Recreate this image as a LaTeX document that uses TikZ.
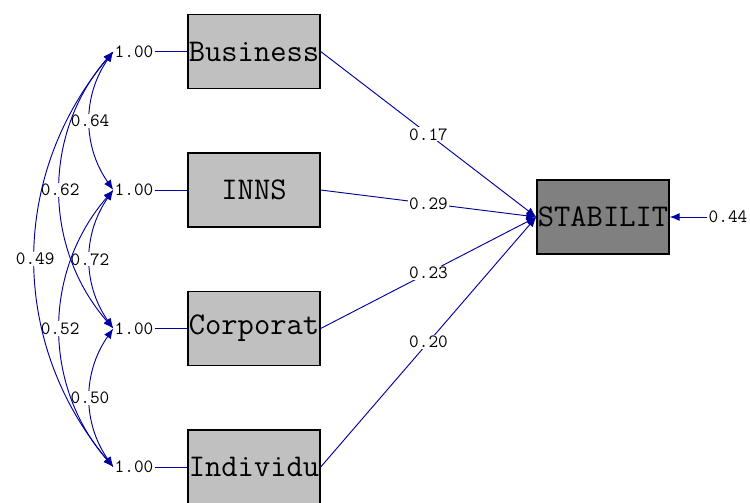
\documentclass[tikz,border=0pt]{standalone}
\usepackage{xcolor}
\usetikzlibrary{arrows.meta,positioning}

\definecolor{pathblue}{RGB}{0,0,160}
\definecolor{boxgray}{RGB}{192,192,192}
\definecolor{darkgray}{RGB}{128,128,128}

\tikzset{
    obsbox/.style={draw=black, line width=1.2pt, fill=boxgray, minimum width=132*0.03cm,
        minimum height=74*0.03cm, inner sep=0pt, font=\ttfamily\fontsize{27}{27}\selectfont},
    coef/.style={text=black, font=\ttfamily\fontsize{16}{16}\selectfont, inner sep=1pt, fill=white},
    path/.style={pathblue, line width=0.8pt},
}

\begin{document}
\begin{tikzpicture}[x=0.03cm, y=-0.03cm, >={Latex[length=3mm,width=2.4mm]}]
        \useasboundingbox (0,0) rectangle (750,503);

        % Observed variables
        \foreach \name/\txt/\y in {biz/Business/51.5, inns/INNS/190, corp/Corporat/328.5, indiv/Individu/467} {
            \node[obsbox] (\name) at (254,\y) {\txt};
            \node[coef] (v\name) at (134,\y) {1.00};
            \draw[path] (v\name.east) -- (\name.west);
        }

        % Dependent variable
        \node[obsbox, fill=darkgray] (stab) at (603,217) {STABILIT};
        \node[coef] (err) at (728,217) {0.44};
        \draw[path, ->] (err.west) -- (stab.east);

        % Paths to STABILIT
        \draw[path, ->] (biz.east) -- node[coef, pos=0.5] {0.17} (stab.west);
        \draw[path, ->] (inns.east) -- node[coef, pos=0.5] {0.29} (stab.west);
        \draw[path, ->] (corp.east) -- node[coef, pos=0.5] {0.23} (stab.west);
        \draw[path, ->] (indiv.east) -- node[coef, pos=0.5] {0.20} (stab.west);

        % Covariances
        \draw[path, <->] (vbiz.west) to[bend right=35] node[coef] {0.64} (vinns.west);
        \draw[path, <->] (vinns.west) to[bend right=35] node[coef] {0.72} (vcorp.west);
        \draw[path, <->] (vcorp.west) to[bend right=35] node[coef] {0.50} (vindiv.west);
        \draw[path, <->] (vbiz.west) to[bend right=41] node[coef] {0.62} (vcorp.west);
        \draw[path, <->] (vinns.west) to[bend right=41] node[coef] {0.52} (vindiv.west);
        \draw[path, <->] (vbiz.west) to[bend right=40] node[coef] {0.49} (vindiv.west);
    \end{tikzpicture}
\end{document}
